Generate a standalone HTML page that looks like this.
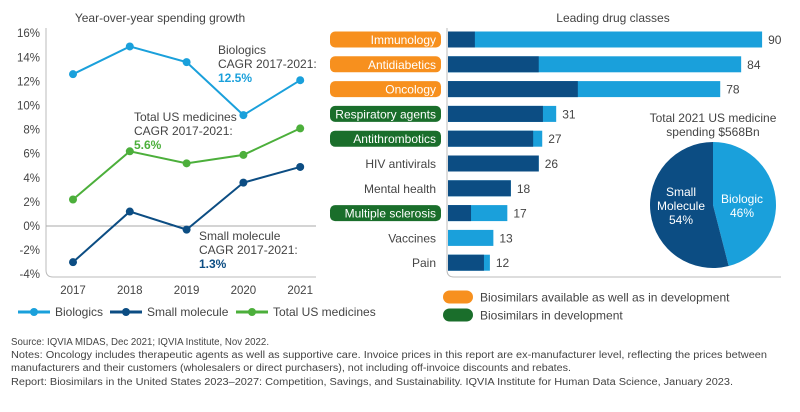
<!DOCTYPE html>
<html><head><meta charset="utf-8"><style>
body{margin:0;background:#fff;width:800px;height:407px;overflow:hidden;font-family:"Liberation Sans",sans-serif}
svg text{font-family:"Liberation Sans",sans-serif}
</style></head><body>
<svg id="c" width="800" height="407" xmlns="http://www.w3.org/2000/svg"></svg>
<script>
const years=["2017","2018","2019","2020","2021"];
const biologics=[12.6,14.9,13.6,9.2,12.1];
const smallMol=[-3.0,1.2,-0.3,3.6,4.9];
const totalUS=[2.2,6.2,5.2,5.9,8.1];
const yTicks=[16,14,12,10,8,6,4,2,0,-2,-4];
const classes=["Immunology","Antidiabetics","Oncology","Respiratory agents","Antithrombotics","HIV antivirals","Mental health","Multiple sclerosis","Vaccines","Pain"];
const totals=[90,84,78,31,27,26,18,17,13,12];
const smallPart=[7.7,26,37.2,27.2,24.4,26,18,6.6,0,10.3];
const tags=["o","o","o","g","g","","","g","",""];
const pieLabels=["Biologic","Small Molecule"];
const pieValues=[46,54];

const LB="#1aa0db",DB="#0c4d83",GR="#4caf3b",OR="#f7901e",DG="#1a6e2b",TX="#444";
const svg=document.getElementById('c');
function el(t,a,p){const e=document.createElementNS("http://www.w3.org/2000/svg",t);for(const k in a)e.setAttribute(k,a[k]);(p||svg).appendChild(e);return e;}
function tx(x,y,s,a,p){const e=el("text",Object.assign({x:x,y:y,"font-size":12,fill:TX},a||{}),p);e.textContent=s;return e;}

// left chart
const xS=i=>73+i*56.8, yS=v=>226-v*12.05;
tx(160,22,"Year-over-year spending growth",{"text-anchor":"middle","font-size":12});
const ax=el("path",{d:"M46,28 V270 Q46,277 53,277 H316",stroke:"#bbb",fill:"none","stroke-width":1});

el("line",{x1:46,x2:316,y1:yS(0),y2:yS(0),stroke:"#aaa","stroke-width":1});
yTicks.forEach(v=>{const t=tx(40,yS(v)+4,v+"%",{"text-anchor":"end","font-size":11.5});});
years.forEach((y,i)=>{const t=tx(xS(i),294,y,{"text-anchor":"middle","font-size":11.5});});
function series(d,c,n){const g=el("g",{});
 el("polyline",{points:d.map((v,i)=>xS(i)+","+yS(v)).join(" "),fill:"none",stroke:c,"stroke-width":2},g);
 d.forEach((v,i)=>{const p=el("circle",{cx:xS(i),cy:yS(v),r:4,fill:c},g);});}
series(biologics,LB,"biologics-line");series(smallMol,DB,"small-molecule-line");series(totalUS,GR,"total-us-line");
function ann(x,y,lines,c,val,n){const g=el("g",{});lines.forEach((l,i)=>tx(x,y+i*14,l,{},g));tx(x,y+lines.length*14,val,{fill:c,"font-weight":"bold"},g);}
ann(218,54,["Biologics","CAGR 2017-2021:"],LB,"12.5%","biologics-annotation");
ann(134,121,["Total US medicines","CAGR 2017-2021:"],GR,"5.6%","total-annotation");
ann(199,240,["Small molecule","CAGR 2017-2021:"],DB,"1.3%","small-molecule-annotation");
[[LB,"Biologics",18],[DB,"Small molecule",110],[GR,"Total US medicines",236]].forEach(([c,l,x])=>{const g=el("g",{});
 el("line",{x1:x,x2:x+32,y1:312,y2:312,stroke:c,"stroke-width":3},g);el("circle",{cx:x+16,cy:312,r:4,fill:c},g);tx(x+37,316,l,{},g);});

// right bars
const bx=v=>448+v*3.49, rowY=i=>39.5+i*24.8;
tx(613,22,"Leading drug classes",{"text-anchor":"middle"});
el("path",{d:"M447,28 V270 Q447,277 454,277 H781",stroke:"#bbb",fill:"none"});
classes.forEach((c,i)=>{const y=rowY(i);
 if(tags[i]){const r=el("rect",{x:330,y:y-8,width:111,height:16,rx:5,fill:tags[i]=="o"?OR:DG});}
 const t=tx(436,y+4.5,c,{"text-anchor":"end",fill:tags[i]?"#fff":TX,"font-size":12});
 const b1=el("rect",{x:bx(0),y:y-8,width:bx(totals[i])-bx(0),height:16,fill:LB});
 const b2=el("rect",{x:bx(0),y:y-8,width:bx(smallPart[i])-bx(0),height:16,fill:DB});
 const v=tx(bx(totals[i])+6,y+4.5,String(totals[i]));});
// pie
const cx=713,cy=205,R=63;const pg=el("g",{});
let a0=0;const sum=pieValues.reduce((a,b)=>a+b,0);
pieValues.forEach((v,i)=>{const a1=a0+v/sum*2*Math.PI;const p=(a)=>[cx+R*Math.sin(a),cy-R*Math.cos(a)];const [x0,y0]=p(a0),[x1,y1]=p(a1);
 const s=el("path",{d:`M${cx},${cy} L${x0},${y0} A${R},${R} 0 ${a1-a0>Math.PI?1:0} 1 ${x1},${y1} Z`,fill:i==0?LB:DB},pg);a0=a1;});
tx(742,203,pieLabels[0],{"text-anchor":"middle",fill:"#fff"},pg);tx(742,217,pieValues[0]+"%",{"text-anchor":"middle",fill:"#fff"},pg);
tx(681,196,"Small",{"text-anchor":"middle",fill:"#fff"},pg);tx(681,210,"Molecule",{"text-anchor":"middle",fill:"#fff"},pg);tx(681,224,pieValues[1]+"%",{"text-anchor":"middle",fill:"#fff"},pg);
tx(713,122,"Total 2021 US medicine",{"text-anchor":"middle"});
tx(713,136,"spending $568Bn",{"text-anchor":"middle"});
[[OR,"Biosimilars available as well as in development",297],[DG,"Biosimilars in development",315]].forEach(([c,l,y])=>{const g=el("g",{});
 el("rect",{x:443,y:y-6.5,width:30,height:13,rx:6.5,fill:c},g);tx(480,y+4.5,l,{},g);});
// footnotes
[["Source: IQVIA MIDAS, Dec 2021; IQVIA Institute, Nov 2022.",345,258],
 ["Notes: Oncology includes therapeutic agents as well as supportive care. Invoice prices in this report are ex-manufacturer level, reflecting the prices between",358,756],
 ["manufacturers and their customers (wholesalers or direct purchasers), not including off-invoice discounts and rebates.",371,560],
 ["Report: Biosimilars in the United States 2023–2027: Competition, Savings, and Sustainability. IQVIA Institute for Human Data Science, January 2023.",385,722]
].forEach(([s,y,w])=>{const t=tx(11,y,s,{"font-size":10,textLength:w,lengthAdjust:"spacingAndGlyphs"});});
</script>
</body></html>
